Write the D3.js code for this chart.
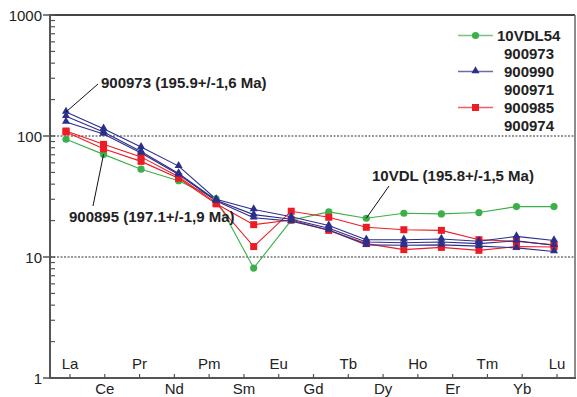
<!doctype html>
<html>
<head>
  <meta charset="utf-8">
  <title>REE spider diagram</title>
  <script src="https://d3js.org/d3.v7.min.js"></script>
  <style>
  html, body { margin: 0; padding: 0; background: #fff; }
  svg { display: block; font-family: "Liberation Sans", Arial, sans-serif; }
  </style>
</head>
<body>
  <div id="vis"></div>
  <script>
  var width = 577;
  var height = 397;
  var frame = { left: 50, right: 575, top: 15, bottom: 378 };

  // axis labels (15 positions) and the 14 measured elements (no Pm)
  var axisLabels = ['La', 'Ce', 'Pr', 'Nd', 'Pm', 'Sm', 'Eu', 'Gd', 'Tb', 'Dy', 'Ho', 'Er', 'Tm', 'Yb', 'Lu'];
  var elements = ['La', 'Ce', 'Pr', 'Nd', 'Sm', 'Eu', 'Gd', 'Tb', 'Dy', 'Ho', 'Er', 'Tm', 'Yb', 'Lu'];
  var yTicks = [1, 10, 100, 1000];

  var s10VDL54 = [94, 70.5, 53.2, 42.7, 30.3, 8.1, 20.1, 23.6, 20.9, 23.0, 22.7, 23.3, 26.1, 26.1];
  var s900973 = [158, 115, 81, 56.4, 30, 24.7, 21.5, 18.2, 13.9, 13.9, 14.1, 13.5, 14.8, 13.7];
  var s900990 = [145.5, 108, 74.5, 49, 29.5, 22.4, 20.5, 17.3, 13.3, 13.1, 13.3, 12.9, 13.6, 12.5];
  var s900971 = [130.6, 104, 72.5, 48, 29, 21.1, 19.8, 16.7, 12.6, 12.5, 12.6, 12.3, 11.9, 11.1];
  var s900985 = [110, 85.3, 67.2, 46, 28, 12.2, 23.9, 21.3, 17.6, 16.8, 16.6, 13.9, 13.5, 12.6];
  var s900974 = [108, 78.3, 61.7, 44.7, 27.5, 18.5, 20.2, 16.6, 12.9, 11.5, 12.0, 11.35, 12.2, 12.1];

  var legendNames = ['10VDL54', '900973', '900990', '900971', '900985', '900974'];

  var green = '#3bb04a', blue = '#2b2f8c', red = '#ec1c24';

  var series = [
    { values: s10VDL54, color: green, marker: 'circle' },
    { values: s900985, color: red, marker: 'square' },
    { values: s900974, color: red, marker: 'square' },
    { values: s900973, color: blue, marker: 'triangle' },
    { values: s900990, color: blue, marker: 'triangle' },
    { values: s900971, color: blue, marker: 'triangle' }
  ];

  var svg = d3.select('#vis').append('svg')
    .attr('width', width)
    .attr('height', height);

  var x = d3.scalePoint().domain(elements).range([66, 554]);
  var xAxisPos = d3.scalePoint().domain(axisLabels).range([70, 557]);
  var y = d3.scaleLog().domain([1, 1000]).range([frame.bottom, frame.top]);

  // dotted grid at 10 and 100
  svg.selectAll('line.grid').data([10, 100]).enter().append('line')
    .attr('class', 'grid')
    .attr('x1', frame.left).attr('x2', frame.right)
    .attr('y1', function(d){ return y(d); }).attr('y2', function(d){ return y(d); })
    .attr('stroke', '#333').attr('stroke-width', 1).attr('stroke-dasharray', '2,1.5');

  // frame
  svg.append('line').attr('x1', frame.left).attr('x2', frame.right).attr('y1', frame.top).attr('y2', frame.top)
    .attr('stroke', '#444').attr('stroke-width', 2);
  svg.append('line').attr('x1', frame.right).attr('x2', frame.right).attr('y1', frame.top).attr('y2', frame.bottom)
    .attr('stroke', '#666').attr('stroke-width', 1.5);
  svg.append('line').attr('x1', frame.left).attr('x2', frame.left).attr('y1', frame.top - 1).attr('y2', frame.bottom + 1)
    .attr('stroke', '#555').attr('stroke-width', 2);
  svg.append('line').attr('x1', frame.left - 1).attr('x2', frame.right + 1).attr('y1', frame.bottom).attr('y2', frame.bottom)
    .attr('stroke', '#555').attr('stroke-width', 2);

  // y ticks
  var minor = [];
  for (var e = 0; e < 3; e++) {
    for (var m = 2; m <= 9; m++) minor.push(m * Math.pow(10, e));
  }
  svg.selectAll('line.minor').data(minor).enter().append('line')
    .attr('x1', frame.left).attr('x2', frame.left + 5)
    .attr('y1', function(d){ return y(d); }).attr('y2', function(d){ return y(d); })
    .attr('stroke', '#555').attr('stroke-width', 1.2);
  svg.selectAll('line.major').data(yTicks).enter().append('line')
    .attr('x1', frame.left - 7).attr('x2', frame.left + 5)
    .attr('y1', function(d){ return y(d); }).attr('y2', function(d){ return y(d); })
    .attr('stroke', '#555').attr('stroke-width', 1.5);
  svg.selectAll('text.ylab').data(yTicks).enter().append('text')
    .attr('x', 42).attr('y', function(d){ return y(d) + 6; })
    .attr('text-anchor', 'end').attr('font-size', 15).attr('fill', '#222')
    .text(function(d){ return d; });

  // x ticks and labels (two rows)
  svg.selectAll('line.xtick').data(axisLabels).enter().append('line')
    .attr('x1', function(d){ return xAxisPos(d); }).attr('x2', function(d){ return xAxisPos(d); })
    .attr('y1', frame.bottom - 4).attr('y2', frame.bottom)
    .attr('stroke', '#555').attr('stroke-width', 1.2);
  svg.selectAll('text.xlab').data(axisLabels).enter().append('text')
    .attr('x', function(d){ return xAxisPos(d); })
    .attr('y', function(d, i){ return i % 2 === 0 ? 369 : 394; })
    .attr('text-anchor', 'middle').attr('font-size', 15).attr('fill', '#222')
    .text(function(d){ return d; });

  // lines
  var line = d3.line()
    .x(function(d, i){ return x(elements[i]); })
    .y(function(d){ return y(d); });

  function drawMarker(g, type, color, cx, cy) {
    if (type === 'circle') {
      g.append('circle').attr('cx', cx).attr('cy', cy).attr('r', 3.6).attr('fill', color);
    } else if (type === 'square') {
      g.append('rect').attr('x', cx - 3.5).attr('y', cy - 3.5).attr('width', 7).attr('height', 7).attr('fill', color);
    } else {
      g.append('path').attr('d', d3.symbol().type(d3.symbolTriangle).size(28)())
        .attr('transform', 'translate(' + cx + ',' + (cy - 0.5) + ')').attr('fill', color);
    }
  }

  series.forEach(function(s){
    svg.append('path').datum(s.values)
      .attr('d', line).attr('fill', 'none')
      .attr('stroke', s.color).attr('stroke-width', 1.1);
  });
  series.forEach(function(s){
    var g = svg.append('g');
    s.values.forEach(function(v, i){
      drawMarker(g, s.marker, s.color, x(elements[i]), y(v));
    });
  });

  // annotations
  var notes = [
    { text: '900973 (195.9+/-1,6 Ma)', tx: 101, ty: 88, from: [98, 84], to: [x('La'), y(s900973[0])] },
    { text: '900895 (197.1+/-1,9 Ma)', tx: 69, ty: 222, from: [93, 206], to: [x('Ce'), y(s10VDL54[1])] },
    { text: '10VDL (195.8+/-1,5 Ma)', tx: 372, ty: 181, from: [389, 186], to: [x('Dy'), y(s10VDL54[8])] }
  ];
  notes.forEach(function(n){
    svg.append('line')
      .attr('x1', n.from[0]).attr('y1', n.from[1]).attr('x2', n.to[0]).attr('y2', n.to[1])
      .attr('stroke', '#111').attr('stroke-width', 1);
    svg.append('text').attr('x', n.tx).attr('y', n.ty)
      .attr('font-size', 15).attr('font-weight', 'bold').attr('fill', '#222')
      .text(n.text);
  });

  // legend
  var legendRows = [
    { color: green, marker: 'circle' }, null,
    { color: blue, marker: 'triangle' }, null,
    { color: red, marker: 'square' }, null
  ];
  var legend = svg.append('g');
  legendNames.forEach(function(name, i){
    var base = 40.5 + i * 18;
    var row = legendRows[i];
    if (row) {
      legend.append('line').attr('x1', 458).attr('x2', 493)
        .attr('y1', base - 5).attr('y2', base - 5)
        .attr('stroke', row.color).attr('stroke-width', 1.5).attr('opacity', 0.7);
      drawMarker(legend, row.marker, row.color, 475.5, base - 5);
    }
    legend.append('text').attr('x', i === 0 ? 497 : 504).attr('y', base)
      .attr('font-size', 15).attr('font-weight', 'bold').attr('fill', '#222')
      .text(name);
  });
  </script>
</body>
</html>
